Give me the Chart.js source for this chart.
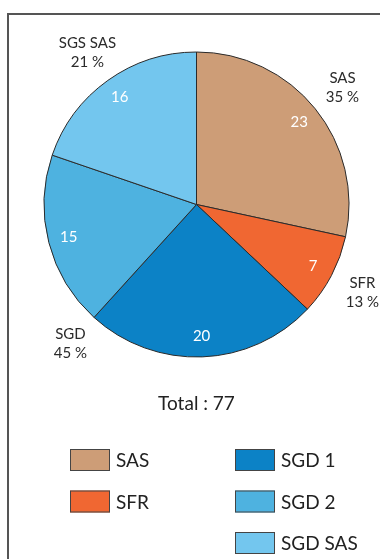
<!DOCTYPE html>
<html lang="fr">
<head>
  <meta charset="UTF-8">
  <meta name="viewport" content="width=device-width, initial-scale=1.0">
  <title>Répartition</title>
  <style>
    html, body { margin: 0; padding: 0; background: #fff; overflow: hidden; }
    .frame {
      position: absolute; left: 7px; top: 13px; width: 400px; height: 600px;
      border-left: 2px solid #555; border-top: 2px solid #555;
    }
    .wrapper { position: absolute; left: 0; top: 0; width: 380px; height: 559px; }
  </style>
</head>
<body>
  <div class="frame"></div>
  <div class="wrapper">
    <canvas id="pieChart"></canvas>
  </div>

  <script src="https://cdn.jsdelivr.net/npm/chart.js"></script>
  <script>
    const labels = ['SAS', 'SFR', 'SGD 1', 'SGD 2', 'SGD SAS']
    const values = [23, 7, 20, 15, 16]
    const colors = ['#cd9d77', '#f06732', '#0c82c6', '#4eb2e0', '#73c6ee']

    // outside captions: text, percent, and the slice index they sit next to
    const groupNames = ['SAS', 'SFR', 'SGD', 'SGS SAS']
    const groupPercents = ['35 %', '13 %', '45 %', '21 %']
    const groupSlices = [0, 1, 2, 4]
    const totalText = 'Total : 77'

    const font = '"Myriad Pro", "Lato", "Open Sans", sans-serif'

    // white numbers inside slices + captions outside
    const sliceLabels = {
      id: 'sliceLabels',
      afterDatasetsDraw(chart) {
        const ctx = chart.ctx
        const arcs = chart.getDatasetMeta(0).data
        ctx.save()
        ctx.textAlign = 'center'
        ctx.textBaseline = 'middle'

        ctx.fillStyle = '#fff'
        ctx.font = '15px ' + font
        arcs.forEach((arc, i) => {
          const mid = (arc.startAngle + arc.endAngle) / 2
          const r = arc.outerRadius * 0.865
          ctx.fillText(String(values[i]), arc.x + Math.cos(mid) * r, arc.y + Math.sin(mid) * r)
        })

        ctx.fillStyle = '#2b2b2b'
        ctx.font = '15px ' + font
        groupNames.forEach((name, g) => {
          const arc = arcs[groupSlices[g]]
          // the SGD caption belongs to SGD 1 + SGD 2, placed at their shared edge
          const a = name === 'SGD' ? arc.endAngle : (arc.startAngle + arc.endAngle) / 2
          const r = arc.outerRadius * 1.23
          const x = arc.x + Math.cos(a) * r
          const y = arc.y + Math.sin(a) * r
          ctx.fillText(name, x, y - 9)
          ctx.fillText(groupPercents[g], x, y + 10)
        })
        ctx.restore()
      },
      afterDraw(chart) {
        const ctx = chart.ctx
        const arc = chart.getDatasetMeta(0).data[0]
        ctx.save()
        ctx.textAlign = 'center'
        ctx.textBaseline = 'middle'
        ctx.fillStyle = '#222'
        ctx.font = '19px ' + font
        ctx.fillText(totalText, arc.x, 404)

        // two-column legend, filled column by column
        ctx.textAlign = 'left'
        ctx.font = '19px ' + font
        labels.forEach((lab, i) => {
          const col = i < 2 ? 0 : 1
          const row = i < 2 ? i : i - 2
          const bx = col === 0 ? 70 : 235
          const by = 449 + row * 41.5
          ctx.fillStyle = colors[i]
          ctx.fillRect(bx, by, 40, 22)
          ctx.strokeStyle = '#444'
          ctx.lineWidth = 1
          ctx.strokeRect(bx + 0.5, by + 0.5, 39, 21)
          ctx.fillStyle = '#222'
          ctx.fillText(lab, bx + 46, by + 12)
        })
        ctx.restore()
      }
    }

    const config = {
      type: 'pie',
      data: {
        labels: labels,
        datasets: [{
          data: values,
          backgroundColor: colors,
          borderColor: '#2a2a2a',
          borderWidth: 1
        }]
      },
      options: {
        responsive: true,
        maintainAspectRatio: false,
        animation: false,
        radius: 152.5,
        layout: { padding: { left: 40, right: 27, top: 48, bottom: 198 } },
        plugins: {
          legend: { display: false },
          tooltip: { enabled: false }
        }
      },
      plugins: [sliceLabels]
    }

    const pieChart = new Chart(document.getElementById('pieChart'), config)
  </script>
</body>
</html>
